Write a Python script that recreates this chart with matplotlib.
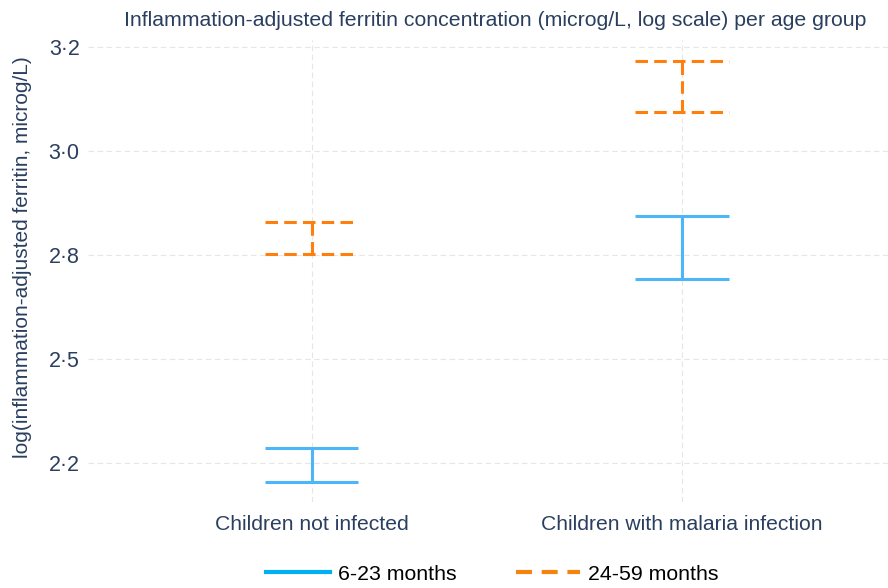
import matplotlib.pyplot as plt
from matplotlib.lines import Line2D

plt.rcParams['font.family'] = ['Liberation Sans', 'DejaVu Sans']
plt.rcParams['lines.scale_dashes'] = False

# data (log ferritin, lower/upper bound)
groups = ["Children not infected", "Children with malaria infection"]
young_lo = [2.204, 2.693]
young_hi = [2.287, 2.844]
old_lo = [2.752, 3.094]
old_hi = [2.830, 3.216]
yticks = [2.25, 2.5, 2.75, 3.0, 3.25]

text_col = "#2a3f5f"
blue = "#4db6f8"
orange = "#ff7f0e"

fig = plt.figure(figsize=(8.88, 5.88), dpi=100)
ax = fig.add_axes([88 / 888, 1 - 502 / 588, 800 / 888, 462 / 588])

x = list(range(len(groups)))
w = 0.126
ax.hlines(young_lo + young_hi, [i - w for i in x] * 2, [i + w for i in x] * 2,
          color=blue, lw=2.2)
ax.vlines(x, young_lo, young_hi, color=blue, lw=2.2)
ax.hlines(old_lo + old_hi, [i - w for i in x] * 2, [i + w for i in x] * 2,
          color=orange, lw=2.2, linestyle=(0, (9, 4.5)))
ax.vlines(x, old_lo, old_hi, color=orange, lw=2.2, linestyle=(0, (9, 4.5)))

ax.set_xlim(-0.605, 1.557)
ax.set_ylim(2.156, 3.267)
ax.set_xticks(x)
ax.set_xticklabels(groups)
ax.set_yticks(yticks)
ax.set_yticklabels([format(v, ".1f").replace(".", "\u00b7") for v in yticks])
ax.tick_params(length=0, labelcolor=text_col)
ax.tick_params(axis="x", pad=9, labelsize=15.2)
ax.tick_params(axis="y", pad=6, labelsize=15.5)
for s in ax.spines.values():
    s.set_visible(False)
ax.grid(True, color="#e6e6e6", lw=0.8, linestyle=(0, (4, 2.5)))
ax.set_axisbelow(True)

ax.set_ylabel("log(inflammation-adjusted ferritin, microg/L)", fontsize=15,
              color=text_col)
ax.yaxis.set_label_coords(-56 / 800, (502 - 257) / 462)
fig.text(495 / 888, 1 - 20 / 588,
         "Inflammation-adjusted ferritin concentration (microg/L, log scale) per age group",
         ha="center", va="center", fontsize=15.3, color=text_col)

handles = [Line2D([], [], color="#00b0f0", lw=3),
           Line2D([], [], color="#f5840f", lw=3, linestyle=(0, (11.5, 7)))]
fig.legend(handles, ["6-23 months", "24-59 months"], loc="center",
           bbox_to_anchor=(492 / 888, 1 - 574 / 588), ncol=2, frameon=False,
           fontsize=15.3, handlelength=3.0, columnspacing=2.8, handletextpad=0.38,
           borderpad=0, borderaxespad=0)

fig.savefig("out.png", dpi=100)
